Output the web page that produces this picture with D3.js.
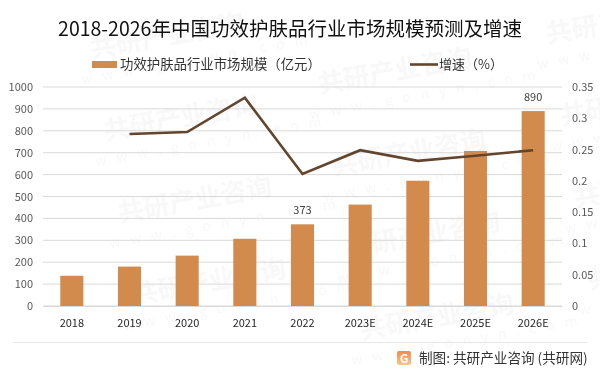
<!DOCTYPE html>
<html>
<head>
<meta charset="utf-8">
<script src="https://cdn.jsdelivr.net/npm/d3@7"></script>
<style>
  html, body { margin: 0; padding: 0; background: #fff; }
  text { font-family: "Noto Sans CJK SC", "Noto Sans", sans-serif; }
</style>
</head>
<body>
<div id="container"></div>
<script>
/* DATA */
const categories = ["2018", "2019", "2020", "2021", "2022", "2023E", "2024E", "2025E", "2026E"];
const marketSize = [138, 180, 230, 307, 373, 463, 572, 708, 890];
const growth = [null, 0.275, 0.278, 0.333, 0.211, 0.249, 0.232, 0.24, 0.249];
const labelledBars = ["2022", "2026E"];
const leftTicks = [0, 100, 200, 300, 400, 500, 600, 700, 800, 900, 1000];
const rightTicks = [0, 0.05, 0.1, 0.15, 0.2, 0.25, 0.3, 0.35];

/* CONSTANTS */
const width = 600;
const height = 375;
const margin = { top: 87, right: 38, bottom: 69, left: 43 };
const barColor = "#d28b4d";
const lineColor = "#63452d";

const svg = d3.select("#container").append("svg")
  .attr("width", width)
  .attr("height", height)
  .style("display", "block");

/* WATERMARK */
const wm = svg.append("g").attr("opacity", 0.035);
const wmColumnShift = [0, 35, -15];
for (let col = 0; col < 3; col++) {
  for (let row = 0; row < 4; row++) {
    const x = 70 + col * 228 + row * 14;
    const y = 62 + wmColumnShift[col] + row * 82;
    const g = wm.append("g").attr("transform", `translate(${x}, ${y}) rotate(-10)`);
    g.append("text").attr("x", 22).attr("font-size", 26).attr("font-weight", 700).attr("fill", "#222")
      .text("共研产业咨询");
    g.append("text").attr("x", 8).attr("y", 24).attr("font-size", 14).attr("letter-spacing", 10).attr("fill", "#222")
      .text("www.gonyn.com");
  }
}

/* SCALES */
const xScale = d3.scaleBand()
  .domain(categories)
  .range([margin.left, width - margin.right])
  .paddingInner(0.6)
  .paddingOuter(0.3);

const yScale = d3.scaleLinear()
  .domain([0, 1000])
  .range([height - margin.bottom, margin.top]);

const y2Scale = d3.scaleLinear()
  .domain([0, 0.35])
  .range([height - margin.bottom, margin.top]);

/* GRID */
svg.append("g")
  .selectAll("line")
  .data(leftTicks)
  .join("line")
  .attr("x1", margin.left)
  .attr("x2", width - margin.right)
  .attr("y1", d => yScale(d))
  .attr("y2", d => yScale(d))
  .attr("stroke", "#d9d9d9")
  .attr("stroke-width", 1);

/* BARS */
svg.selectAll("rect.bar")
  .data(categories)
  .join("rect")
  .attr("class", "bar")
  .attr("x", d => xScale(d))
  .attr("y", (d, i) => yScale(marketSize[i]))
  .attr("width", xScale.bandwidth())
  .attr("height", (d, i) => yScale(0) - yScale(marketSize[i]))
  .attr("fill", barColor);

/* BAR LABELS */
svg.selectAll("text.bar-label")
  .data(categories.filter(d => labelledBars.includes(d)))
  .join("text")
  .attr("class", "bar-label")
  .attr("x", d => xScale(d) + xScale.bandwidth() / 2)
  .attr("y", d => yScale(marketSize[categories.indexOf(d)]) - 10)
  .attr("text-anchor", "middle")
  .attr("font-size", 11)
  .attr("fill", "#404040")
  .text(d => marketSize[categories.indexOf(d)]);

/* LINE */
const line = d3.line()
  .defined(d => d !== null)
  .x((d, i) => xScale(categories[i]) + xScale.bandwidth() / 2)
  .y(d => y2Scale(d));

svg.append("path")
  .attr("d", line(growth))
  .attr("fill", "none")
  .attr("stroke", lineColor)
  .attr("stroke-width", 2.6)
  .attr("stroke-linejoin", "miter");

/* AXES */
const xAxis = d3.axisBottom(xScale).tickSize(0).tickPadding(13);
const yAxis = d3.axisLeft(yScale).tickValues(leftTicks).tickSize(0).tickPadding(10)
  .tickFormat(d => String(d));
const y2Axis = d3.axisRight(y2Scale).tickValues(rightTicks).tickSize(0).tickPadding(10)
  .tickFormat(d => String(d));

const gx = svg.append("g")
  .attr("transform", `translate(0, ${height - margin.bottom})`)
  .call(xAxis);
gx.select(".domain").attr("stroke", "#d9d9d9");
gx.selectAll("text").attr("font-size", 11).attr("fill", "#262626")
  .style("font-family", '"Noto Sans CJK SC"');

const gy = svg.append("g")
  .attr("transform", `translate(${margin.left}, 0)`)
  .call(yAxis);
gy.select(".domain").remove();
gy.selectAll("text").attr("font-size", 11).attr("fill", "#595959")
  .style("font-family", '"Noto Sans CJK SC"');

const gy2 = svg.append("g")
  .attr("transform", `translate(${width - margin.right}, 0)`)
  .call(y2Axis);
gy2.select(".domain").remove();
gy2.selectAll("text").attr("font-size", 11).attr("fill", "#595959")
  .style("font-family", '"Noto Sans CJK SC"');

/* TITLE */
svg.append("text")
  .attr("x", 290)
  .attr("y", 36)
  .attr("text-anchor", "middle")
  .attr("font-size", 19.5)
  .attr("fill", "#111")
  .text("2018-2026年中国功效护肤品行业市场规模预测及增速");

/* LEGEND */
svg.append("rect")
  .attr("x", 92).attr("y", 61).attr("width", 25).attr("height", 7)
  .attr("fill", barColor);
svg.append("text")
  .attr("x", 120).attr("y", 69)
  .attr("font-size", 13.4).attr("fill", "#333")
  .text("功效护肤品行业市场规模（亿元）");
svg.append("line")
  .attr("x1", 410).attr("x2", 438).attr("y1", 64.5).attr("y2", 64.5)
  .attr("stroke", lineColor).attr("stroke-width", 2.6);
svg.append("text")
  .attr("x", 439).attr("y", 69)
  .attr("font-size", 13).attr("fill", "#333")
  .text("增速（%）");

/* FOOTER */
svg.append("line")
  .attr("x1", 14).attr("x2", 587).attr("y1", 342.5).attr("y2", 342.5)
  .attr("stroke", "#e6e6e6");

const defs = svg.append("defs");
const grad = defs.append("linearGradient")
  .attr("id", "logoGrad")
  .attr("x1", 0).attr("x2", 0).attr("y1", 0).attr("y2", 1);
grad.append("stop").attr("offset", 0).attr("stop-color", "#f08a4b");
grad.append("stop").attr("offset", 1).attr("stop-color", "#f9c784");

const logo = svg.append("g").attr("transform", "translate(397, 351)");
logo.append("rect")
  .attr("width", 14).attr("height", 14).attr("rx", 2)
  .attr("fill", "url(#logoGrad)");
logo.append("text")
  .attr("x", 7).attr("y", 11.5)
  .attr("text-anchor", "middle")
  .attr("font-size", 12).attr("font-weight", 700).attr("fill", "#fff")
  .text("G");

svg.append("text")
  .attr("x", 419).attr("y", 363)
  .attr("font-size", 13.6).attr("fill", "#333")
  .text("制图: 共研产业咨询 (共研网)");
</script>
</body>
</html>
